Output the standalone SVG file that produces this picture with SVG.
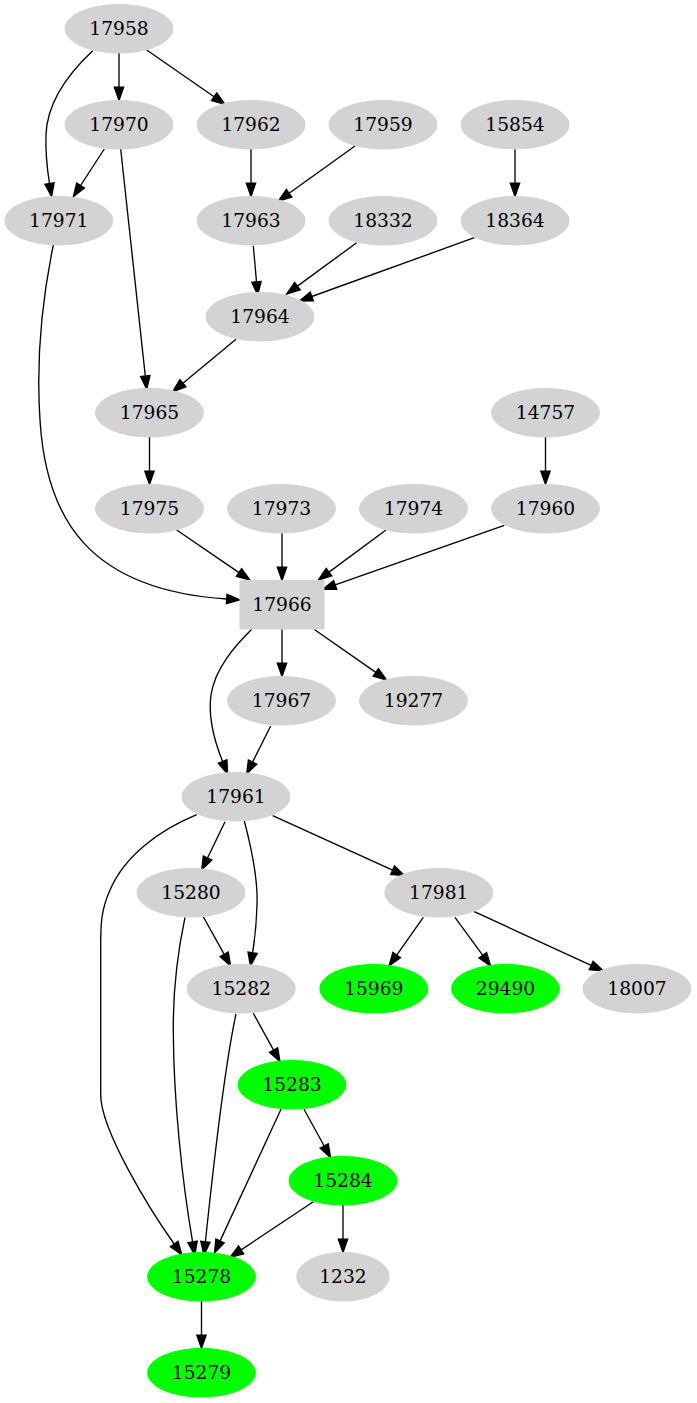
<svg xmlns="http://www.w3.org/2000/svg" width="697" height="1403" viewBox="0 0 697 1403">
<style>
.n ellipse,.n rect{fill:#d3d3d3;stroke:#d3d3d3}
.g ellipse{fill:#00ff00;stroke:#00ff00}
text{font-family:"DejaVu Serif",serif;font-size:18.67px;text-anchor:middle;fill:#000}
#edges path{fill:none;stroke:#000;stroke-width:1.33;marker-end:url(#ah)}
</style>
<defs>
<marker id="ah" markerUnits="userSpaceOnUse" markerWidth="15" markerHeight="11" viewBox="0 -5.5 15 11" refX="0" refY="0" orient="auto" overflow="visible">
<polygon points="0,-4.67 13.3,0 0,4.67" fill="#000" stroke="#000" stroke-width="1.33"/>
</marker>
</defs>
<rect width="697" height="1403" fill="#fff"/>
<g id="edges">
<path d="M119,53 L119,87.1"/>
<path d="M146.7,50 L214.1,96.7"/>
<path d="M92.7,50.7 C70,72 47,100 46,135 C45.5,152 47,168 49.5,183.5"/>
<path d="M104.3,149 L80.6,185.5"/>
<path d="M120.7,149 L145.3,376.1"/>
<path d="M251,149 L251,183.1"/>
<path d="M355,146 L289.1,193.3"/>
<path d="M515,149 L515,183.1"/>
<path d="M253.3,245.7 L256.5,281.8"/>
<path d="M356.7,242.7 L297.4,286.1"/>
<path d="M474.3,237.7 L311.8,296.5"/>
<path d="M236,339.3 L182.9,383.2"/>
<path d="M149.5,437 L149.5,471.1"/>
<path d="M545.5,437 L545.5,471.1"/>
<path d="M53.3,245 C42,300 36,360 40,420 C46,520 90,590 226.7,599"/>
<path d="M176.7,530 L239,572.6"/>
<path d="M282,533 L282,567.1"/>
<path d="M386,530 L329,572.1"/>
<path d="M504.3,525.3 L335.2,584.9"/>
<path d="M251.7,629.3 C235,646 215,668 211,695 C208,716 214,740 222.6,761.5"/>
<path d="M282,629.3 L282,663.1"/>
<path d="M314,629.3 L375.8,672.4"/>
<path d="M270.7,726 L252.6,762.1"/>
<path d="M196.7,814.7 C160,830 125,855 110,890 C101,910 100.7,925 100.7,945 L100.7,1095 C100.7,1130 150,1210 174.2,1244"/>
<path d="M225,821.7 L207.5,858"/>
<path d="M244.3,821 C252,850 258,880 257,905 C256.5,922 255,938 252.6,952.8"/>
<path d="M272.7,815.7 L392.6,870.2"/>
<path d="M203.3,916.7 L224.2,954.4"/>
<path d="M185,917.3 C177,955 173,990 173.3,1030 C173.5,1100 182,1180 192.6,1241.9"/>
<path d="M423.3,917.3 L396.7,955.1"/>
<path d="M455,917.3 L482.8,955.3"/>
<path d="M474.3,911.7 L591.2,965.4"/>
<path d="M253.3,1013.3 L273.6,1050.1"/>
<path d="M236,1014 C225,1065 215,1150 205.4,1241.8"/>
<path d="M304,1109.3 L324.2,1146"/>
<path d="M281,1109.3 L220.1,1240.9"/>
<path d="M313.3,1201.7 L241.1,1249.9"/>
<path d="M343,1205 L343,1239.1"/>
<path d="M201.5,1301 L201.5,1335.1"/>
</g>
<g id="n17958" class="n"><ellipse cx="119" cy="28.7" rx="54" ry="24.3"/><text x="119" y="34.5">17958</text></g>
<g id="n17970" class="n"><ellipse cx="119" cy="124.7" rx="54" ry="24.3"/><text x="119" y="130.5">17970</text></g>
<g id="n17962" class="n"><ellipse cx="251" cy="124.7" rx="54" ry="24.3"/><text x="251" y="130.5">17962</text></g>
<g id="n17959" class="n"><ellipse cx="383" cy="124.7" rx="54" ry="24.3"/><text x="383" y="130.5">17959</text></g>
<g id="n15854" class="n"><ellipse cx="515" cy="124.7" rx="54" ry="24.3"/><text x="515" y="130.5">15854</text></g>
<g id="n17971" class="n"><ellipse cx="58.8" cy="220.7" rx="54" ry="24.3"/><text x="58.8" y="226.5">17971</text></g>
<g id="n17963" class="n"><ellipse cx="251" cy="220.7" rx="54" ry="24.3"/><text x="251" y="226.5">17963</text></g>
<g id="n18332" class="n"><ellipse cx="383" cy="220.7" rx="54" ry="24.3"/><text x="383" y="226.5">18332</text></g>
<g id="n18364" class="n"><ellipse cx="515" cy="220.7" rx="54" ry="24.3"/><text x="515" y="226.5">18364</text></g>
<g id="n17964" class="n"><ellipse cx="260" cy="316.7" rx="54" ry="24.3"/><text x="260" y="322.5">17964</text></g>
<g id="n17965" class="n"><ellipse cx="149.5" cy="412.7" rx="54" ry="24.3"/><text x="149.5" y="418.5">17965</text></g>
<g id="n14757" class="n"><ellipse cx="545.5" cy="412.7" rx="54" ry="24.3"/><text x="545.5" y="418.5">14757</text></g>
<g id="n17975" class="n"><ellipse cx="149.5" cy="508.7" rx="54" ry="24.3"/><text x="149.5" y="514.5">17975</text></g>
<g id="n17973" class="n"><ellipse cx="281.5" cy="508.7" rx="54" ry="24.3"/><text x="281.5" y="514.5">17973</text></g>
<g id="n17974" class="n"><ellipse cx="413.5" cy="508.7" rx="54" ry="24.3"/><text x="413.5" y="514.5">17974</text></g>
<g id="n17960" class="n"><ellipse cx="545.5" cy="508.7" rx="54" ry="24.3"/><text x="545.5" y="514.5">17960</text></g>
<g id="n17966" class="n"><rect x="240" y="580.4" width="84" height="48.6"/><text x="282" y="610.5">17966</text></g>
<g id="n17967" class="n"><ellipse cx="281.5" cy="700.7" rx="54" ry="24.3"/><text x="281.5" y="706.5">17967</text></g>
<g id="n19277" class="n"><ellipse cx="413.5" cy="700.7" rx="54" ry="24.3"/><text x="413.5" y="706.5">19277</text></g>
<g id="n17961" class="n"><ellipse cx="236" cy="796.7" rx="54" ry="24.3"/><text x="236" y="802.5">17961</text></g>
<g id="n15280" class="n"><ellipse cx="191" cy="892.7" rx="54" ry="24.3"/><text x="191" y="898.5">15280</text></g>
<g id="n17981" class="n"><ellipse cx="438.8" cy="892.7" rx="54" ry="24.3"/><text x="438.8" y="898.5">17981</text></g>
<g id="n15282" class="n"><ellipse cx="241.3" cy="988.7" rx="54" ry="24.3"/><text x="241.3" y="994.5">15282</text></g>
<g id="n15969" class="n g"><ellipse cx="373.8" cy="988.7" rx="54" ry="24.3"/><text x="373.8" y="994.5">15969</text></g>
<g id="n29490" class="n g"><ellipse cx="505.5" cy="988.7" rx="54" ry="24.3"/><text x="505.5" y="994.5">29490</text></g>
<g id="n18007" class="n"><ellipse cx="637" cy="988.7" rx="54" ry="24.3"/><text x="637" y="994.5">18007</text></g>
<g id="n15283" class="n g"><ellipse cx="292" cy="1084.7" rx="54" ry="24.3"/><text x="292" y="1090.5">15283</text></g>
<g id="n15284" class="n g"><ellipse cx="343" cy="1180.7" rx="54" ry="24.3"/><text x="343" y="1186.5">15284</text></g>
<g id="n15278" class="n g"><ellipse cx="201.5" cy="1276.7" rx="54" ry="24.3"/><text x="201.5" y="1282.5">15278</text></g>
<g id="n1232" class="n"><ellipse cx="343" cy="1276.7" rx="46.3" ry="24.3"/><text x="343" y="1282.5">1232</text></g>
<g id="n15279" class="n g"><ellipse cx="201.5" cy="1372.7" rx="54" ry="24.3"/><text x="201.5" y="1378.5">15279</text></g>
</svg>
